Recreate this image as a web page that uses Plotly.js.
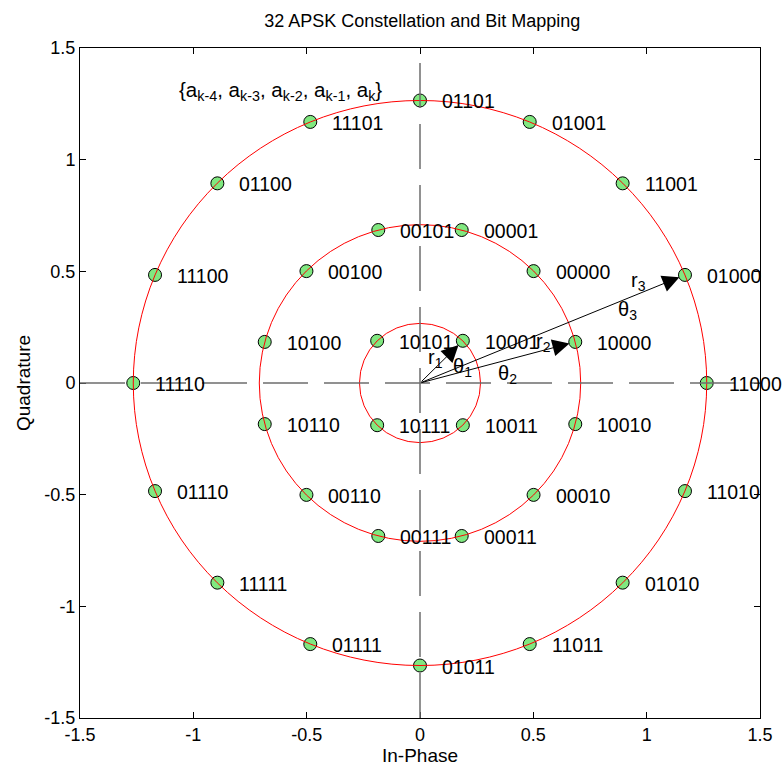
<!DOCTYPE html>
<html>
<head>
<meta charset="utf-8">
<script src="https://cdn.plot.ly/plotly-3.0.1.min.js"></script>
<style>html,body{margin:0;padding:0;background:#fff;}#chart{width:782px;height:776px;}</style>
</head>
<body>
<div id="chart"></div>
<script>
// In-phase / quadrature coordinates of the 32 symbols
const symI = [1.265, 1.169, 0.894, 0.484, 0.000, -0.484, -0.894, -1.169, -1.265, -1.169, -0.894, -0.484, 0.000, 0.484, 0.894, 1.169,
              0.685, 0.501, 0.184, -0.184, -0.501, -0.685, -0.685, -0.501, -0.184, 0.184, 0.501, 0.685,
              0.189, -0.189, -0.189, 0.189];
const symQ = [0.000, 0.484, 0.894, 1.169, 1.265, 1.169, 0.894, 0.484, 0.000, -0.484, -0.894, -1.169, -1.265, -1.169, -0.894, -0.484,
              0.184, 0.501, 0.685, 0.685, 0.501, 0.184, -0.184, -0.501, -0.685, -0.685, -0.501, -0.184,
              0.189, 0.189, -0.189, -0.189];
const bitLabels = ["11000","01000","11001","01001","01101","11101","01100","11100","11110","01110","11111","01111","01011","11011","01010","11010",
                   "10000","00000","00001","00101","00100","10100","10110","00110","00111","00011","00010","10010",
                   "10001","10101","10111","10011"];
// ring radii
const ringRadii = [0.267, 0.709, 1.265];
// arrow tips (one per ring) and their labels
const arrowTipI = [0.189, 0.685, 1.169];
const arrowTipQ = [0.189, 0.184, 0.484];
const radiusLabels = ["r<sub>1</sub>", "r<sub>2</sub>", "r<sub>3</sub>"];
const radiusLabelI = [0.068, 0.545, 0.965];
const radiusLabelQ = [0.110, 0.180, 0.455];
const angleLabels = ["θ<sub>1</sub>", "θ<sub>2</sub>", "θ<sub>3</sub>"];
const angleLabelI = [0.188, 0.385, 0.917];
const angleLabelQ = [0.070, 0.038, 0.325];
const tickVals = [-1.5, -1, -0.5, 0, 0.5, 1, 1.5];
const tickText = ["-1.5", "-1", "-0.5", "0", "0.5", "1", "1.5"];

const FONT = "Liberation Sans, Arial, sans-serif";

const trace = {
  type: "scatter", mode: "markers", x: symI, y: symQ,
  marker: {size: 13, color: "rgb(128,232,128)", line: {color: "#000", width: 1}},
  hoverinfo: "none", showlegend: false
};

const shapes = [];
ringRadii.forEach(r => shapes.push({type: "circle", xref: "x", yref: "y", x0: -r, x1: r, y0: -r, y1: r,
  line: {color: "red", width: 1}, layer: "above"}));
shapes.push({type: "line", xref: "x", yref: "y", x0: -1.5, x1: 1.5, y0: 0, y1: 0,
  line: {color: "rgb(110,110,110)", width: 1.5, dash: "45px,16px"}, layer: "above"});
shapes.push({type: "line", xref: "x", yref: "y", x0: 0, x1: 0, y0: -1.5, y1: 1.5,
  line: {color: "rgb(110,110,110)", width: 1.5, dash: "45px,16px"}, layer: "above"});

const annotations = [];
bitLabels.forEach((t, i) => annotations.push({x: symI[i], y: symQ[i], xref: "x", yref: "y", text: t,
  showarrow: false, xanchor: "left", yanchor: "middle", xshift: 20, yshift: -1,
  font: {family: FONT, size: 19.5, color: "#000"}}));
arrowTipI.forEach((x, i) => annotations.push({x: x, y: arrowTipQ[i], ax: 0, ay: 0, axref: "x", ayref: "y",
  xref: "x", yref: "y", text: "", showarrow: true, arrowhead: 2, arrowsize: 3.4, arrowwidth: 1, arrowcolor: "#000", standoff: 6}));
radiusLabels.forEach((t, i) => annotations.push({x: radiusLabelI[i], y: radiusLabelQ[i], xref: "x", yref: "y", text: t,
  showarrow: false, font: {family: FONT, size: 20, color: "#000"}}));
angleLabels.forEach((t, i) => annotations.push({x: angleLabelI[i], y: angleLabelQ[i], xref: "x", yref: "y", text: t,
  showarrow: false, font: {family: FONT, size: 20, color: "#000"}}));
annotations.push({x: -1.07, y: 1.307, xref: "x", yref: "y", xanchor: "left", yanchor: "middle", showarrow: false,
  text: "{a<sub>k-4</sub>, a<sub>k-3</sub>, a<sub>k-2</sub>, a<sub>k-1</sub>, a<sub>k</sub>}",
  font: {family: FONT, size: 20.5, color: "#000"}});

const axisCommon = {
  range: [-1.5, 1.5], tickvals: tickVals, ticktext: tickText, ticks: "inside", ticklen: 6, tickcolor: "#000",
  showline: true, linecolor: "#000", linewidth: 1, mirror: "ticks", showgrid: false, zeroline: false,
  tickfont: {family: FONT, size: 18, color: "#000"}
};

const layout = {
  width: 782, height: 776,
  margin: {l: 80, r: 22, t: 48, b: 58},
  paper_bgcolor: "#fff", plot_bgcolor: "#fff",
  title: {text: "32 APSK Constellation and Bit Mapping", x: 0.54, xanchor: "center", y: 0.973, yanchor: "middle",
    font: {family: FONT, size: 18, color: "#000"}},
  xaxis: Object.assign({}, axisCommon, {title: {text: "In-Phase", standoff: 5, font: {family: FONT, size: 19, color: "#000"}}}),
  yaxis: Object.assign({}, axisCommon, {title: {text: "Quadrature", standoff: 8, font: {family: FONT, size: 19, color: "#000"}}}),
  shapes: shapes, annotations: annotations
};

Plotly.newPlot("chart", [trace], layout, {displayModeBar: false, staticPlot: true});
</script>
</body>
</html>
